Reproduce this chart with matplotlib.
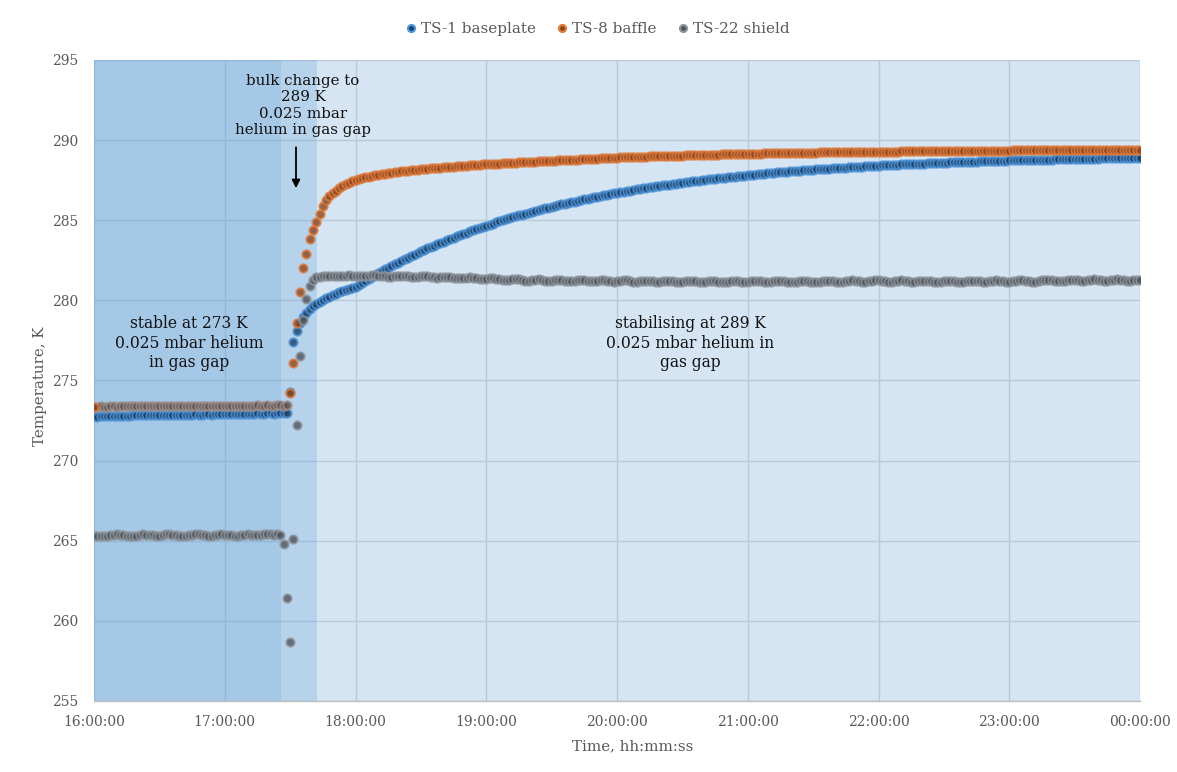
import numpy as np
import matplotlib
matplotlib.use("Agg")
import matplotlib.pyplot as plt
from matplotlib.lines import Line2D

plt.rcParams["font.family"] = ["DejaVu Serif"]

# Logging interval and start of record (hours)
SAMPLE_MIN = 1.5
START_H = 16.0

# TS-1 baseplate temperature, K (one value per sample)
ts1_baseplate = [
    272.76, 272.75, 272.76, 272.77, 272.76, 272.76, 272.77, 272.78, 272.77, 272.77, 272.78, 272.79,
    272.84, 272.85, 272.85, 272.84, 272.85, 272.86, 272.85, 272.85, 272.86, 272.86, 272.85, 272.86, 272.87,
    272.86, 272.86, 272.87, 272.87, 272.86, 272.87, 272.88, 272.87, 272.87, 272.88, 272.88, 272.87, 272.88,
    272.92, 272.93, 272.93, 272.92, 272.93, 272.94, 272.93, 272.93, 272.94, 272.94, 272.93, 272.94, 272.95,
    272.94, 272.94, 272.95, 272.95, 272.94, 272.95, 272.96, 272.95, 272.96,
    274.30, 277.40, 278.10, 278.60, 278.95, 279.22, 279.44, 279.62, 279.78, 279.92,
    280.05, 280.14, 280.24, 280.33, 280.42, 280.50, 280.58, 280.65, 280.72, 280.79,
    280.86, 280.99, 281.11, 281.23, 281.35, 281.47, 281.59, 281.71, 281.82, 281.93,
    282.04, 282.15, 282.26, 282.36, 282.46, 282.57, 282.67, 282.76, 282.86, 282.96,
    283.05, 283.14, 283.24, 283.33, 283.41, 283.50, 283.59, 283.67, 283.76, 283.84,
    283.92, 284.00, 284.08, 284.15, 284.23, 284.30, 284.38, 284.45, 284.52, 284.59,
    284.66, 284.73, 284.79, 284.86, 284.93, 284.99, 285.05, 285.12, 285.18, 285.24,
    285.30, 285.35, 285.41, 285.47, 285.52, 285.58, 285.63, 285.69, 285.74, 285.79,
    285.84, 285.89, 285.94, 285.99, 286.04, 286.08, 286.13, 286.17, 286.22, 286.26,
    286.31, 286.35, 286.39, 286.43, 286.47, 286.52, 286.55, 286.59, 286.63, 286.67,
    286.71, 286.74, 286.78, 286.82, 286.85, 286.89, 286.92, 286.95, 286.99, 287.02,
    287.05, 287.08, 287.11, 287.14, 287.17, 287.20, 287.23, 287.26, 287.29, 287.32,
    287.34, 287.37, 287.40, 287.42, 287.45, 287.47, 287.50, 287.52, 287.55, 287.57,
    287.60, 287.62, 287.64, 287.66, 287.69, 287.71, 287.73, 287.75, 287.77, 287.79,
    287.81, 287.83, 287.85, 287.87, 287.89, 287.91, 287.92, 287.94, 287.96, 287.98,
    287.99, 288.01, 288.03, 288.05, 288.06, 288.08, 288.09, 288.11, 288.12, 288.14,
    288.15, 288.17, 288.18, 288.20, 288.21, 288.22, 288.24, 288.25, 288.26, 288.28,
    288.29, 288.30, 288.31, 288.33, 288.34, 288.35, 288.36, 288.37, 288.38, 288.39,
    288.41, 288.42, 288.43, 288.44, 288.45, 288.46, 288.47, 288.48, 288.49, 288.49,
    288.50, 288.51, 288.52, 288.53, 288.54, 288.55, 288.56, 288.57, 288.57, 288.58,
    288.59, 288.60, 288.61, 288.61, 288.62, 288.63, 288.64, 288.64, 288.65, 288.66,
    288.66, 288.67, 288.68, 288.68, 288.69, 288.70, 288.70, 288.71, 288.71, 288.72,
    288.73, 288.73, 288.74, 288.74, 288.75, 288.75, 288.76, 288.76, 288.77, 288.77,
    288.78, 288.78, 288.79, 288.79, 288.80, 288.80, 288.81, 288.81, 288.82, 288.82,
    288.83, 288.83, 288.83, 288.84, 288.84, 288.85, 288.85, 288.85, 288.86, 288.86,
    288.86, 288.87, 288.87, 288.87, 288.88, 288.88, 288.88, 288.89, 288.89, 288.89, 288.90,
]

# TS-8 baffle temperature, K
ts8_baffle = [
    273.37, 273.37, 273.38, 273.37, 273.37, 273.38, 273.38, 273.37, 273.38, 273.38, 273.39, 273.40,
    273.41, 273.41, 273.40, 273.41, 273.41, 273.42, 273.41, 273.41, 273.40, 273.41, 273.41, 273.42,
    273.42, 273.41, 273.41, 273.42, 273.42, 273.41, 273.42, 273.42, 273.41, 273.42, 273.43, 273.42,
    273.42, 273.42, 273.43, 273.42, 273.42, 273.43, 273.43, 273.42, 273.43, 273.43, 273.42, 273.43,
    273.43, 273.43, 273.44, 273.43, 273.43, 273.44, 273.43, 273.43, 273.44, 273.44, 273.43, 273.44,
    274.20, 276.10, 278.60, 280.50, 282.00, 282.90, 283.80, 284.40, 284.90, 285.40,
    285.90, 286.25, 286.50, 286.70, 286.85, 287.00, 287.12, 287.25, 287.35, 287.45,
    287.52, 287.58, 287.63, 287.68, 287.72, 287.76, 287.80, 287.84, 287.88, 287.91,
    287.94, 287.97, 288.00, 288.03, 288.05, 288.07, 288.09, 288.11, 288.13, 288.15,
    288.17, 288.19, 288.21, 288.23, 288.25, 288.26, 288.28, 288.30, 288.31, 288.33,
    288.34, 288.36, 288.37, 288.39, 288.40, 288.42, 288.43, 288.45, 288.46, 288.48,
    288.49, 288.50, 288.52, 288.53, 288.54, 288.55, 288.56, 288.58, 288.59, 288.60,
    288.61, 288.62, 288.63, 288.64, 288.65, 288.66, 288.67, 288.68, 288.69, 288.70,
    288.71, 288.72, 288.73, 288.74, 288.75, 288.76, 288.77, 288.78, 288.79, 288.80,
    288.81, 288.82, 288.83, 288.84, 288.85, 288.86, 288.87, 288.88, 288.89, 288.90,
    288.91, 288.92, 288.92, 288.93, 288.94, 288.95, 288.95, 288.96, 288.97, 288.97,
    288.98, 288.99, 288.99, 289.00, 289.01, 289.01, 289.02, 289.03, 289.03, 289.04,
    289.04, 289.05, 289.05, 289.06, 289.07, 289.07, 289.08, 289.08, 289.09, 289.09,
    289.10, 289.10, 289.11, 289.11, 289.12, 289.12, 289.13, 289.13, 289.14, 289.14,
    289.15, 289.15, 289.15, 289.16, 289.16, 289.17, 289.17, 289.17, 289.18, 289.18,
    289.18, 289.19, 289.19, 289.20, 289.20, 289.20, 289.21, 289.21, 289.21, 289.22,
    289.22, 289.22, 289.23, 289.23, 289.23, 289.24, 289.24, 289.24, 289.25, 289.25,
    289.25, 289.25, 289.26, 289.26, 289.26, 289.27, 289.27, 289.27, 289.27, 289.28,
    289.28, 289.28, 289.28, 289.29, 289.29, 289.29, 289.29, 289.30, 289.30, 289.30,
    289.30, 289.30, 289.31, 289.31, 289.31, 289.31, 289.31, 289.32, 289.32, 289.32,
    289.32, 289.32, 289.33, 289.33, 289.33, 289.33, 289.33, 289.33, 289.34, 289.34,
    289.34, 289.34, 289.34, 289.34, 289.35, 289.35, 289.35, 289.35, 289.35, 289.35,
    289.35, 289.36, 289.36, 289.36, 289.36, 289.36, 289.36, 289.36, 289.37, 289.37,
    289.37, 289.37, 289.37, 289.37, 289.37, 289.37, 289.38, 289.38, 289.38, 289.38,
    289.38, 289.38, 289.38, 289.38, 289.38, 289.39, 289.39, 289.39, 289.39, 289.39,
    289.39, 289.39, 289.39, 289.39, 289.40, 289.40, 289.40, 289.40, 289.40, 289.40, 289.40,
]

# TS-22 shield temperature, K
ts22_shield = [
    265.30, 265.31, 265.30, 265.29, 265.28, 265.33, 265.38, 265.40, 265.37, 265.33,
    265.30, 265.29, 265.28, 265.32, 265.38, 265.40, 265.38, 265.35, 265.33, 265.30,
    265.31, 265.36, 265.40, 265.41, 265.39, 265.35, 265.32, 265.30, 265.29, 265.33,
    265.38, 265.41, 265.40, 265.37, 265.34, 265.31, 265.30, 265.33, 265.37, 265.40,
    265.39, 265.36, 265.33, 265.31, 265.30, 265.34, 265.38, 265.40, 265.38, 265.35,
    265.33, 265.36, 265.40, 265.42, 265.40, 265.38, 265.40, 265.36,
    264.80, 261.40, 258.70, 265.10, 272.20, 276.50, 278.80, 280.10, 280.90, 281.30,
    281.45, 281.48, 281.50, 281.52, 281.53, 281.52, 281.50, 281.50, 281.52, 281.55, 281.56, 281.55,
    281.53, 281.50, 281.49, 281.50, 281.53, 281.56, 281.57, 281.55, 281.52, 281.50,
    281.48, 281.48, 281.51, 281.54, 281.55, 281.53, 281.50, 281.47, 281.45, 281.46,
    281.49, 281.51, 281.50, 281.47, 281.44, 281.42, 281.43, 281.46, 281.48, 281.46,
    281.42, 281.39, 281.37, 281.38, 281.41, 281.43, 281.41, 281.37, 281.34, 281.33,
    281.35, 281.38, 281.39, 281.36, 281.32, 281.29, 281.28, 281.30, 281.33, 281.34,
    281.31, 281.27, 281.24, 281.24, 281.27, 281.30, 281.31, 281.28, 281.24, 281.22,
    281.23, 281.27, 281.29, 281.28, 281.24, 281.20, 281.19, 281.21, 281.25, 281.27,
    281.25, 281.21, 281.18, 281.18, 281.21, 281.25, 281.26, 281.23, 281.19, 281.17,
    281.19, 281.23, 281.26, 281.25, 281.21, 281.17, 281.16, 281.18, 281.22, 281.24,
    281.22, 281.18, 281.15, 281.15, 281.18, 281.22, 281.23, 281.20, 281.16, 281.14,
    281.16, 281.20, 281.23, 281.22, 281.18, 281.14, 281.12, 281.14, 281.18, 281.21,
    281.20, 281.16, 281.13, 281.13, 281.16, 281.20, 281.22, 281.19, 281.15, 281.13,
    281.14, 281.18, 281.22, 281.23, 281.20, 281.16, 281.14, 281.15, 281.19, 281.23,
    281.24, 281.21, 281.17, 281.14, 281.14, 281.17, 281.21, 281.23, 281.21, 281.17,
    281.14, 281.13, 281.16, 281.20, 281.23, 281.22, 281.18, 281.15, 281.14, 281.16,
    281.20, 281.24, 281.25, 281.22, 281.18, 281.15, 281.15, 281.18, 281.22, 281.25,
    281.25, 281.22, 281.18, 281.16, 281.17, 281.21, 281.24, 281.25, 281.22, 281.18,
    281.15, 281.15, 281.18, 281.22, 281.24, 281.23, 281.19, 281.16, 281.15, 281.17,
    281.21, 281.24, 281.24, 281.21, 281.17, 281.15, 281.16, 281.20, 281.23, 281.24,
    281.22, 281.18, 281.15, 281.15, 281.18, 281.22, 281.25, 281.24, 281.20, 281.17,
    281.16, 281.18, 281.22, 281.25, 281.25, 281.22, 281.18, 281.16, 281.17, 281.21,
    281.25, 281.28, 281.30, 281.28, 281.24, 281.21, 281.21, 281.24, 281.28, 281.30,
    281.29, 281.25, 281.22, 281.22, 281.25, 281.29, 281.31, 281.30, 281.26, 281.23,
    281.22, 281.25, 281.29, 281.31, 281.30, 281.26, 281.23, 281.22, 281.25, 281.28, 281.25,
]

# Index of the first sample after the set-point change on the baffle
BAFFLE_STEP_IDX = 60

# Test phases (hours): stable at 273 K, bulk change, stabilising at 289 K
phase_edges = [16.0, 17.43, 17.706, 24.0]
phase_alpha = [0.55, 0.44, 0.25]

x_ticks = [16, 17, 18, 19, 20, 21, 22, 23, 24]
x_ticklabels = ["16:00:00", "17:00:00", "18:00:00", "19:00:00", "20:00:00",
                "21:00:00", "22:00:00", "23:00:00", "00:00:00"]
y_ticks = [255, 260, 265, 270, 275, 280, 285, 290, 295]


def hours(values):
    return START_H + SAMPLE_MIN * np.arange(len(values)) / 60.0


W, H = 1177, 772
fig = plt.figure(figsize=(W / 100, H / 100), dpi=100)
ax = fig.add_axes([94 / W, 1 - 701 / H, (1140 - 94) / W, (701 - 60) / H])

# phase shading over the gridlines
for (x0, x1), a in zip(zip(phase_edges[:-1], phase_edges[1:]), phase_alpha):
    ax.axvspan(x0, x1, color="#5B9BD5", alpha=a, lw=0, zorder=1)

ax.set_axisbelow(True)
ax.grid(True, color="#D9D9D9", lw=1.0)

mk = dict(ls="none", marker="o", ms=6.0, mew=1.4, alpha=0.8, zorder=3)
styles = {
    "ts1": dict(mfc="#1B3D62", mec="#4F95DA"),
    "ts8": dict(mfc="#8A4520", mec="#E07B3C"),
    "ts8_pre": dict(mfc="#5E5250", mec="#9C8F8C"),
    "ts22": dict(mfc="#4C535B", mec="#8F959B"),
}

x1 = hours(ts1_baseplate)
x8 = hours(ts8_baffle)
x22 = hours(ts22_shield)

ax.plot(x1, ts1_baseplate, **mk, **styles["ts1"])
ax.plot(x8[BAFFLE_STEP_IDX:], ts8_baffle[BAFFLE_STEP_IDX:], **mk, **styles["ts8"])
ax.plot(x8[:BAFFLE_STEP_IDX], ts8_baffle[:BAFFLE_STEP_IDX], **mk, **styles["ts8_pre"])
ax.plot(x8[:1], ts8_baffle[:1], **mk, **styles["ts8"])
ax.plot(x22, ts22_shield, **mk, **styles["ts22"])

ax.set_xlim(16, 24)
ax.set_ylim(255, 295)
ax.set_xticks(x_ticks)
ax.set_xticklabels(x_ticklabels)
ax.set_yticks(y_ticks)
ax.tick_params(axis="both", length=0, labelsize=10, labelcolor="#595959")
ax.tick_params(axis="x", pad=10)
ax.tick_params(axis="y", pad=11)

for s in ("top", "right", "left"):
    ax.spines[s].set_visible(False)
ax.spines["bottom"].set_color("#BFBFBF")
ax.spines["bottom"].set_linewidth(1.0)
ax.spines["bottom"].set_zorder(4)

ax.set_ylabel("Temperature, K", fontsize=10.8, color="#595959")
ax.yaxis.set_label_coords((47 - 94) / 1046, (701 - 386) / 641)
ax.set_xlabel("Time, hh:mm:ss", fontsize=10.8, color="#595959")
ax.xaxis.set_label_coords((633 - 94) / 1046, (701 - 739) / 641)

# annotations
txt = dict(fontsize=11.2, color="#111111", ha="center", va="center",
           linespacing=1.2, zorder=5)
ax.text(17.598, 292.16, "bulk change to\n289 K\n0.025 mbar\nhelium in gas gap",
        **{**txt, "fontsize": 10.8})
ax.text(16.727, 277.34, "stable at 273 K\n0.025 mbar helium\nin gas gap", **txt)
ax.text(20.558, 277.34, "stabilising at 289 K\n0.025 mbar helium in\ngas gap", **txt)
ax.annotate("", xy=(17.545, 287.0), xytext=(17.545, 289.55),
            arrowprops=dict(arrowstyle="-|>", color="black", lw=1.3,
                            mutation_scale=12, shrinkA=0, shrinkB=0), zorder=5)

# legend
handles = [
    Line2D([], [], ls="none", marker="o", ms=5, mew=1.6, **styles["ts1"]),
    Line2D([], [], ls="none", marker="o", ms=5, mew=1.6, **styles["ts8"]),
    Line2D([], [], ls="none", marker="o", ms=5, mew=1.6, **styles["ts22"]),
]
fig.legend(handles, ["TS-1 baseplate", "TS-8 baffle", "TS-22 shield"],
           loc="center", bbox_to_anchor=(598 / W, 1 - 29 / H), ncol=3,
           frameon=False, handlelength=0.6, handletextpad=0.35,
           columnspacing=1.4, fontsize=11, labelcolor="#595959")

fig.savefig("out.png", dpi=100)
